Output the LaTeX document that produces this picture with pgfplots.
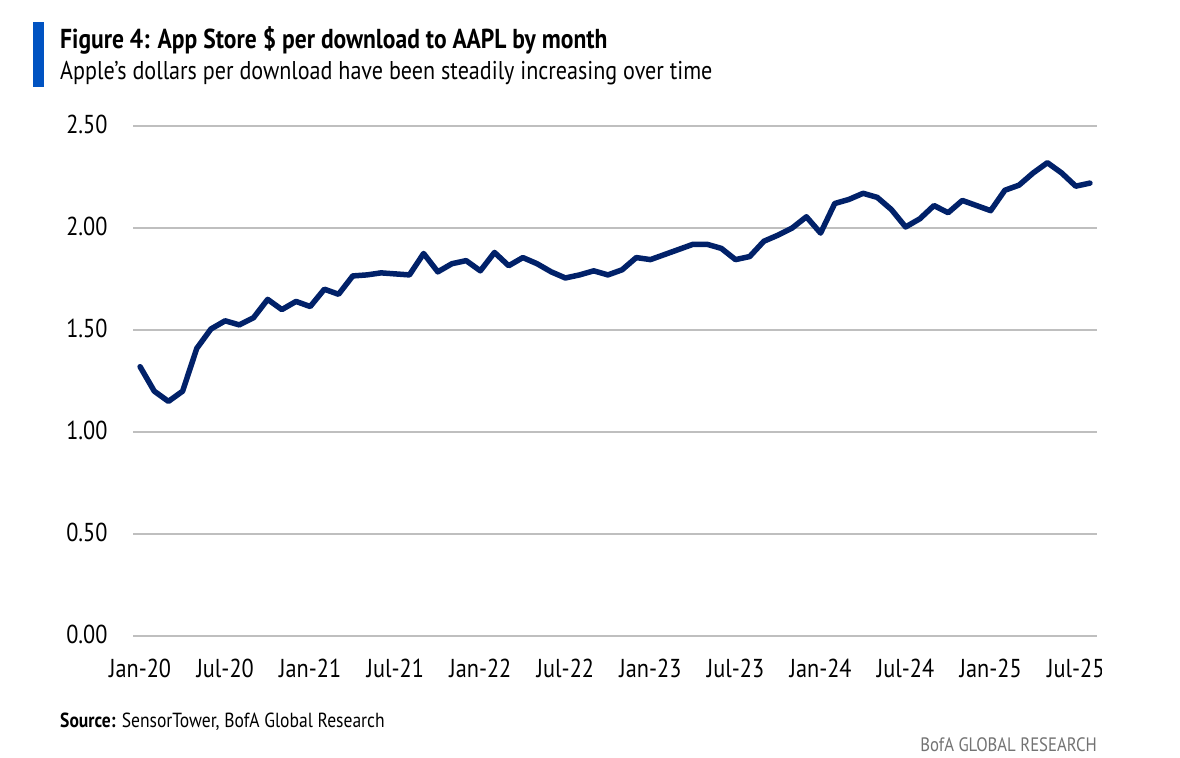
\documentclass[border=0pt]{standalone}
\usepackage{pgfplots}
\pgfplotsset{compat=1.18}
\usepackage{fontspec}
\setmainfont[FakeStretch=0.86]{PT Sans}
\definecolor{navy}{HTML}{012169}
\definecolor{bofablue}{HTML}{0053C2}
\definecolor{gridgray}{HTML}{BFBFBF}
\pgfplotstableread{
i v
0 1.32
1 1.20
2 1.15
3 1.20
4 1.41
5 1.505
6 1.545
7 1.525
8 1.56
9 1.65
10 1.60
11 1.64
12 1.615
13 1.70
14 1.675
15 1.765
16 1.77
17 1.78
18 1.775
19 1.77
20 1.875
21 1.785
22 1.825
23 1.84
24 1.79
25 1.88
26 1.815
27 1.855
28 1.825
29 1.785
30 1.755
31 1.77
32 1.79
33 1.77
34 1.795
35 1.855
36 1.845
37 1.87
38 1.895
39 1.92
40 1.92
41 1.90
42 1.845
43 1.86
44 1.935
45 1.965
46 2.00
47 2.055
48 1.975
49 2.12
50 2.14
51 2.17
52 2.15
53 2.09
54 2.005
55 2.045
56 2.11
57 2.075
58 2.135
59 2.11
60 2.085
61 2.185
62 2.21
63 2.27
64 2.32
65 2.27
66 2.205
67 2.22
}\datatable
\begin{document}
\begin{tikzpicture}[x=1bp,y=1bp]
\fill[white] (0,0) rectangle (1180,758);
\fill[bofablue] (33,736) rectangle (44,671);
\node[anchor=base west, inner sep=0, font=\fontsize{27.5}{32}\selectfont\bfseries] at (60,709) {Figure 4: App Store \$ per download to AAPL by month};
\node[anchor=base west, inner sep=0, font=\fontsize{25.8}{30}\selectfont] at (60,678) {Apple’s dollars per download have been steadily increasing over time};
\begin{axis}[
  at={(133bp,122bp)}, anchor=south west,
  scale only axis, width=964bp, height=510bp,
  xmin=-0.5, xmax=67.5, ymin=0, ymax=2.5,
  axis line style={draw=none},
  major tick length=0pt,
  xtick={0,6,12,18,24,30,36,42,48,54,60,66},
  xticklabels={Jan-20,Jul-20,Jan-21,Jul-21,Jan-22,Jul-22,Jan-23,Jul-23,Jan-24,Jul-24,Jan-25,Jul-25},
  xticklabel style={anchor=base, yshift=-42bp, font=\fontsize{26}{30}\selectfont},
  ytick={0.5,1,1.5,2,2.5},
  yticklabels={0.50,1.00,1.50,2.00,2.50},
  yticklabel style={anchor=east, xshift=-22bp, yshift=2bp, font=\fontsize{26}{30}\selectfont},
  ymajorgrids,
  major grid style={gridgray, line width=2.2bp},
  extra y ticks={0},
  extra y tick labels={0.00},
  extra y tick style={grid style={black!80, line width=2.7bp}},
  clip=false,
]
\addplot[navy, line width=5.5bp, line join=round, line cap=round] table[x=i, y=v] {\datatable};
\end{axis}
\fill[white] (1102,58) rectangle (1180,113);
\node[anchor=base west, inner sep=0, font=\fontsize{20.5}{24}\selectfont] at (60,30) {\textbf{Source:} SensorTower, BofA Global Research};
\node[anchor=base east, inner sep=0, font=\fontsize{19.5}{23}\selectfont, text=black!55] at (1097,6) {BofA GLOBAL RESEARCH};
\end{tikzpicture}
\end{document}
